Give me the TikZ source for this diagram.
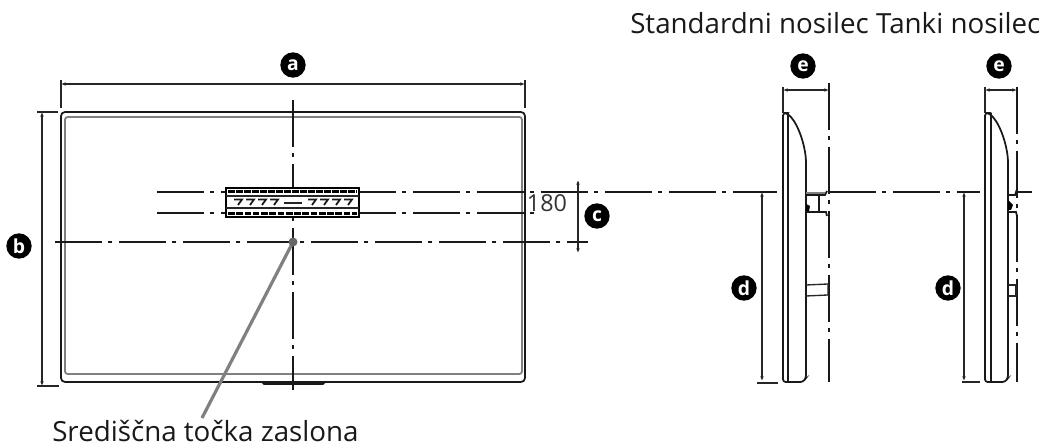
\documentclass[tikz,border=0pt]{standalone}
\usepackage{fontspec}
\setmainfont{Open Sans}
\usetikzlibrary{arrows.meta}
\tikzset{
  line/.style={draw=black!90,line width=1.3pt},
  thin line/.style={draw=black!85,line width=1pt},
  center line/.style={draw=black!90,line width=1.1pt,dash pattern=on 35pt off 5pt on 3pt off 5pt},
  dim/.style={draw=black!85,line width=0.95pt,{Latex[length=3.5pt,width=2.8pt]}-{Latex[length=3.5pt,width=2.8pt]}},
  badge/.style={circle,fill=black,text=white,minimum size=19pt,inner sep=0pt,font=\bfseries\fontsize{14.5}{14.5}\selectfont},
  caption/.style={anchor=base west,inner sep=0pt,font=\fontsize{20.8}{25}\selectfont,text=black!90}
}
\begin{document}
\begin{tikzpicture}[x=0.75pt,y=-0.75pt]
    \useasboundingbox (0,0) rectangle (1040,448);
    % labels
    \node [caption] (head) at (630,34) {Standardni nosilec Tanki nosilec};
    \node [caption] (foot) at (52,442) {Središčna točka zaslona};
    \node [badge] (a) at (293,65) {a};
    \node [badge] (b) at (19,246) {b};
    \node [badge] (c) at (597,216) {c};
    \node [badge] (d1) at (744,288) {d};
    \node [badge] (d2) at (948,288) {d};
    \node [badge] (e1) at (803,66) {e};
    \node [badge] (e2) at (999,66) {e};
    \node [inner sep=0pt,font=\fontsize{17.5}{20}\selectfont,text=black!80] (size) at (547,203) {180};
    % front view
    \draw [line,rounded corners=3pt] (61,112) rectangle (525,382);
    \draw [draw=black!50,line width=1.4pt,rounded corners=2pt] (65,117) rectangle (522,374);
    \draw [line] (262,382) -- (264,384) -- (323,384) -- (325,382);
    % center lines
    \draw [center line] (293,100) -- (293,390);
    \draw [center line] (55,242) -- (588,242);
    \draw [center line] (157,192) -- (777,192);
    \draw [center line] (157,213) -- (537,213);
    \draw [center line] (829,192) -- (980,192);
    \draw [line] (1017,192) -- (1032,192);
    % mount plate
    \draw [fill=white,draw=black,line width=1.1pt] (226,188) rectangle (359,217);
    \draw [black,line width=2.4pt,dash pattern=on 5pt off 1pt] (228,191.5) -- (357,191.5);
    \draw [thin line] (226,196) -- (359,196);
    \draw [thin line] (226,208) -- (359,208);
    \draw [black,line width=2.6pt,dash pattern=on 5pt off 1.2pt] (228,213.5) -- (357,213.5);
    \foreach \x in {238,250,262,274,312,324,336,348}
      \draw [line] (\x-4,199.5) -- (\x+4,199.5) -- (\x,205);
    \draw [thin line] (284,203) -- (302,203);
    % center point
    \coordinate (mid) at (293,242);
    \coordinate (tail) at (202,418);
    \draw [draw=black!50,line width=2.4pt] (mid) -- (tail);
    \fill [black!60] (mid) circle (4.5);
    % front dimensions
    \coordinate (al) at (61,84); \coordinate (ar) at (525,84);
    \coordinate (bt) at (42,112); \coordinate (bb) at (42,386);
    \coordinate (ct) at (578,180); \coordinate (cb) at (578,253);
    \draw [dim] (al) -- (ar);
    \draw [dim] (bt) -- (bb);
    \draw [dim] (ct) -- (cb);
    \draw [thin line] (61,80) -- (61,108);
    \draw [thin line] (525,80) -- (525,108);
    \draw [thin line] (37,112) -- (58,112);
    \draw [thin line] (37,386) -- (59,386);
    % standard bracket
    \draw [line,rounded corners=2pt] (806,160) .. controls (804,140) and (796,120) .. (786,113) -- (783,113) -- (783,382) -- (803,382) -- (806,378) -- cycle;
    \draw [line] (788,113) -- (788,382);
    \draw [center line] (829,83) -- (829,382);
    \draw [line] (806,195) -- (825,195) -- (827,191);
    \draw [line] (806,212) -- (826,212) -- (827,216);
    \draw [line] (819,196) -- (819,212);
    \draw [draw=black!50,line width=1.2pt] (806,193) -- (825,193);
    \fill [black] (806,204) -- (810,206) -- (809,211) -- (806,211) -- cycle;
    \draw [thin line] (806,285) -- (828,284) -- (828,295) -- (806,296);
    \draw [line] (806,285) -- (806,296);
    \coordinate (e1l) at (783,90); \coordinate (e1r) at (829,90);
    \coordinate (d1t) at (762,192); \coordinate (d1b) at (762,381);
    \draw [dim] (e1l) -- (e1r);
    \draw [dim] (d1t) -- (d1b);
    \draw [thin line] (783,87) -- (783,113);
    \draw [thin line] (757,383) -- (778,383);
    % slim bracket
    \draw [line,rounded corners=2pt] (1008,160) .. controls (1006,140) and (998,120) .. (988,113) -- (985,113) -- (985,382) -- (1005,382) -- (1008,378) -- cycle;
    \draw [line] (991,113) -- (991,382);
    \draw [center line] (1017,87) -- (1017,382);
    \draw [line] (1008,195) -- (1015,195) -- (1017,189);
    \draw [line] (1008,212) -- (1016,212) -- (1017,216);
    \fill [black] (1008,200) -- (1013,205) -- (1011,210) -- (1008,210) -- cycle;
    \draw [thin line] (1008,285) -- (1016,285) -- (1016,296) -- (1008,296);
    \draw [line] (1008,285) -- (1008,296);
    \coordinate (e2l) at (985,90); \coordinate (e2r) at (1017,90);
    \coordinate (d2t) at (964,192); \coordinate (d2b) at (964,381);
    \draw [dim] (e2l) -- (e2r);
    \draw [dim] (d2t) -- (d2b);
    \draw [thin line] (985,87) -- (985,113);
    \draw [thin line] (962,382) -- (980,382);
\end{tikzpicture}
\end{document}
